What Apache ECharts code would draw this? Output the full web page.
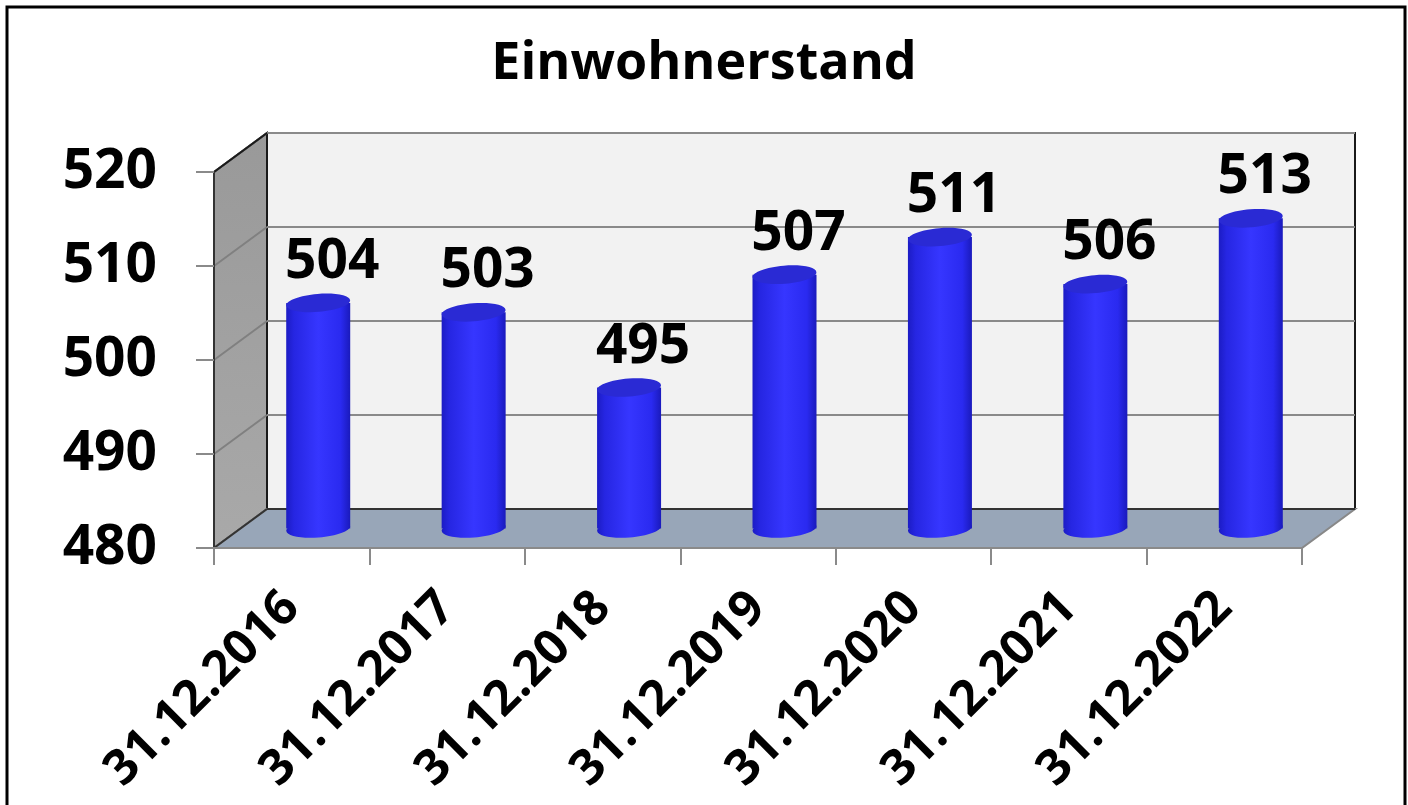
<!DOCTYPE html>
<html><head><meta charset="utf-8">
<script src="https://cdn.jsdelivr.net/npm/echarts@6/dist/echarts.min.js"></script>
<style>html,body{margin:0;padding:0;background:#fff}#c{width:1408px;height:805px}</style>
</head><body><div id="c"></div>
<script>
const chartTitle = 'Einwohnerstand';
const categories = ['31.12.2016','31.12.2017','31.12.2018','31.12.2019','31.12.2020','31.12.2021','31.12.2022'];
const values = [504, 503, 495, 507, 511, 506, 513];
const yMin = 480, yMax = 520, yStep = 10;

const FONT = '"Open Sans", "DejaVu Sans", sans-serif';
const DX = 53, DY = -39;   // 3D depth offset
const R = 32, RY = 9;

function renderBox(params, api) {
  const bw = api.size([1, 0])[0];
  const pL = api.coord([0, yMin]);
  const pR = api.coord([categories.length - 1, yMin]);
  const x0 = pL[0] - bw / 2, x1 = pR[0] + bw / 2;
  const yb = pL[1], yt = api.coord([0, yMax])[1];
  const ch = [];
  ch.push({type: 'rect', shape: {x: x0 + DX, y: yt + DY, width: x1 - x0, height: yb - yt},
    style: {fill: '#f2f2f2', stroke: '#1a1a1a', lineWidth: 2}});
  ch.push({type: 'polygon', shape: {points: [[x0, yt], [x0 + DX, yt + DY], [x0 + DX, yb + DY], [x0, yb]]},
    style: {fill: new echarts.graphic.LinearGradient(0, 0, 0, 1, [{offset: 0, color: '#999999'}, {offset: 1, color: '#a9a9a9'}]),
      stroke: '#1a1a1a', lineWidth: 2}});
  ch.push({type: 'polygon', shape: {points: [[x0, yb], [x0 + DX, yb + DY], [x1 + DX, yb + DY], [x1, yb]]},
    style: {fill: '#98a6b8', stroke: '#888', lineWidth: 2}});
  for (let v = yMin + yStep; v <= yMax; v += yStep) {
    const y = api.coord([0, v])[1];
    ch.push({type: 'line', shape: {x1: x0 + DX, y1: y + DY, x2: x1 + DX, y2: y + DY}, style: {stroke: '#8a8a8a', lineWidth: 2}});
    ch.push({type: 'line', shape: {x1: x0, y1: y, x2: x0 + DX, y2: y + DY}, style: {stroke: '#808080', lineWidth: 2}});
  }
  ch.push({type: 'line', shape: {x1: x0, y1: yt, x2: x0 + DX, y2: yt + DY}, style: {stroke: '#1a1a1a', lineWidth: 2}});
  ch.push({type: 'line', shape: {x1: x0 + DX, y1: yb + DY, x2: x1 + DX, y2: yb + DY}, style: {stroke: '#333', lineWidth: 2}});
  ch.push({type: 'line', shape: {x1: x0, y1: yb, x2: x0 + DX, y2: yb + DY}, style: {stroke: '#333', lineWidth: 2}});
  return {type: 'group', children: ch};
}

function renderBar(params, api) {
  const i = api.value(0), v = api.value(1);
  const top = api.coord([i, v]);
  const base = api.coord([i, yMin]);
  const cx = top[0] + DX / 2;
  const yT = top[1] + DY / 2, yB = base[1] + DY / 2;
  const body = new echarts.graphic.LinearGradient(0, 0, 1, 0, [
    {offset: 0, color: '#1c1cc4'}, {offset: 0.12, color: '#2626e2'}, {offset: 0.5, color: '#3636ff'},
    {offset: 0.85, color: '#2a2af0'}, {offset: 1, color: '#1a1abc'}]);
  const rot = 0.08;
  return {type: 'group', children: [
    {type: 'ellipse', shape: {cx: 0, cy: 0, rx: R, ry: RY}, x: cx, y: yB, rotation: rot, style: {fill: body}},
    {type: 'rect', shape: {x: cx - R, y: yT, width: 2 * R, height: yB - yT}, style: {fill: body}},
    {type: 'ellipse', shape: {cx: 0, cy: 0, rx: R, ry: RY}, x: cx, y: yT, rotation: rot,
      style: {fill: '#2a2ad4'}},
    {type: 'text', x: cx + 14, y: yT - RY - 4, style: {text: String(v), textAlign: 'center', textVerticalAlign: 'bottom',
      fontSize: 55, fontWeight: 'bold', fontFamily: FONT, fill: '#000'}}
  ]};
}

const chart = echarts.init(document.getElementById('c'), null, {renderer: 'canvas'});
chart.setOption({
  backgroundColor: '#fff',
  animation: false,
  title: {text: chartTitle, left: 'center', top: 33,
    textStyle: {fontSize: 52, fontWeight: 'bold', fontFamily: FONT, color: '#000'}},
  grid: {left: 214, right: 106, top: 172, bottom: 257, containLabel: false},
  xAxis: {type: 'category', data: categories, z: 5,
    axisLine: {show: true, lineStyle: {color: '#8a8a8a', width: 2}},
    axisTick: {show: true, length: 17, lineStyle: {color: '#8a8a8a', width: 2}},
    axisLabel: {rotate: 45, margin: 52, fontSize: 49, fontWeight: 'bold', fontFamily: FONT, color: '#000'}},
  yAxis: {type: 'value', min: yMin, max: yMax, interval: yStep, z: 5,
    axisLine: {show: true, lineStyle: {color: '#333', width: 2}},
    axisTick: {show: true, length: 18, lineStyle: {color: '#8a8a8a', width: 2}},
    splitLine: {show: false},
    axisLabel: {margin: 57, fontSize: 55, fontWeight: 'bold', fontFamily: FONT, color: '#000'}},
  graphic: [{type: 'rect', shape: {x: 7, y: 7, width: 1398, height: 820}, style: {fill: 'none', stroke: '#000', lineWidth: 3}, z: 100}],
  series: [
    {type: 'custom', z: 1, renderItem: renderBox, data: [[0, yMin]], silent: true},
    {type: 'custom', z: 3, renderItem: renderBar, data: values.map((v, i) => [i, v])}
  ]
});
</script>
</body></html>
